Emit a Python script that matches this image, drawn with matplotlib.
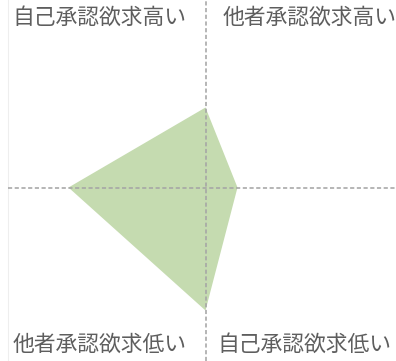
import matplotlib
matplotlib.use("Agg")
import matplotlib.pyplot as plt

plt.rcParams['font.family'] = ['Noto Sans CJK JP', 'DejaVu Sans']

# ==========================================
# Data
# ==========================================
# values along each direction from the centre: up, right, down, left
directions = ["up", "right", "down", "left"]
values = [4.0, 1.6, 6.15, 6.85]
corner_labels = ["自己承認欲求高い", "他者承認欲求高い", "他者承認欲求低い", "自己承認欲求低い"]

# unit vectors for the four directions
dir_x = {"up": 0, "right": 1, "down": 0, "left": -1}
dir_y = {"up": 1, "right": 0, "down": -1, "left": 0}

xs = [dir_x[d] * v for d, v in zip(directions, values)]
ys = [dir_y[d] * v for d, v in zip(directions, values)]

# ==========================================
# Figure
# ==========================================
W, H = 396, 361
fig = plt.figure(figsize=(W / 100, H / 100), dpi=100)
ax = fig.add_axes([0, 0, 1, 1])
ax.set_xlim(-10.275, 9.525)
ax.set_ylim(-8.675, 9.375)
ax.axis("off")

ax.fill(xs, ys, color="#c5dbb0", lw=0, zorder=1)

dash = (0, (2.6, 1.6))
ax.axhline(0, xmin=8 / W, color="#a5a5a5", lw=1.15, ls=dash, zorder=2)
ax.axvline(0, color="#a5a5a5", lw=1.15, ls=dash, zorder=2)
ax.axvline(-9.875, color="#eeeeee", lw=0.8, zorder=0)

# corner labels
pos = [(12 / W, 1 - 18 / H), (223 / W, 1 - 18 / H),
       (13 / W, 1 - 345 / H), (217 / W, 1 - 345 / H)]
for (px, py), lab in zip(pos, corner_labels):
    fig.text(px, py, lab, ha="left", va="center", fontsize=15.7, color="#5e5e5e")

fig.savefig("out.png", dpi=100)
